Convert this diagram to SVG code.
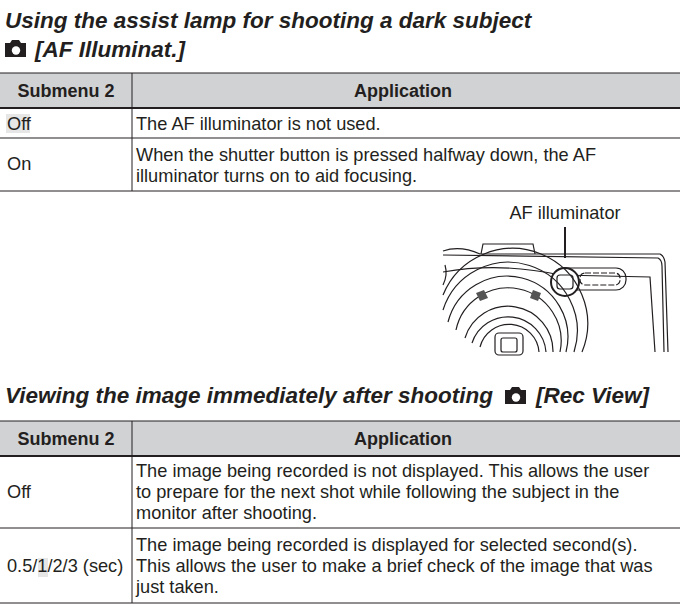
<svg xmlns="http://www.w3.org/2000/svg" width="680" height="610" viewBox="0 0 680 610">
<style>
.t{font-family:"Liberation Sans",Arial,sans-serif;font-size:18.2px;fill:#231f20}
.h{font-family:"Liberation Sans",Arial,sans-serif;font-size:18px;font-weight:bold;fill:#231f20}
.ti{font-family:"Liberation Sans",Arial,sans-serif;font-size:22.5px;font-weight:bold;font-style:italic;fill:#231f20}
.hd{fill:#d1d2d4}
.ln{stroke:#231f20;stroke-width:1;fill:none}
.lk{stroke:#231f20;stroke-width:2;fill:none}
.cam{stroke:#231f20;stroke-width:1.2;fill:none}
</style>
<defs>
<g id="icon"><path d="M0,4 h5 l2,-3 h7 l2,3 h5 v14 h-21z" fill="#231f20"/><circle cx="11" cy="11.5" r="4.2" fill="#fff"/></g>
</defs>
<g id="title1">
<text class="ti" x="5" y="28">Using the assist lamp for shooting a dark subject</text>
<use href="#icon" x="5" y="39"/>
<text class="ti" x="35" y="57">[AF Illuminat.]</text>
</g>
<g id="table1">
<rect class="hd" x="0" y="73" width="680" height="34"/>
<line class="ln" x1="0" y1="73" x2="680" y2="73"/>
<line class="lk" x1="0" y1="108" x2="680" y2="108"/>
<line class="ln" x1="0" y1="138" x2="680" y2="138"/>
<line class="ln" x1="0" y1="191" x2="680" y2="191"/>
<line class="ln" x1="132" y1="73" x2="132" y2="191"/>
<text class="h" x="66" y="97" text-anchor="middle">Submenu 2</text>
<text class="h" x="403" y="97" text-anchor="middle">Application</text>
<rect x="6" y="114" width="24" height="19" fill="#e6e6e6"/>
<text class="t" x="7" y="130">Off</text>
<text class="t" x="136" y="130">The AF illuminator is not used.</text>
<text class="t" x="7" y="170">On</text>
<text class="t" x="136" y="161">When the shutter button is pressed halfway down, the AF</text>
<text class="t" x="136" y="182">illuminator turns on to aid focusing.</text>
</g>
<g id="camera">
<text class="t" x="565" y="219" text-anchor="middle">AF illuminator</text>
<line class="lk" x1="565" y1="227" x2="565" y2="258"/>
<path class="cam" d="M443,251 Q460,245 480,254 L660,254 Q664,256 665,262 L668,352"/>
<path class="cam" d="M443,255 L658,258 Q662,260 662,266 L664,352"/>
<path class="cam" d="M481,254 L483,244 L533,244 L535,254"/>
<path class="cam" d="M443,272 Q500,262 560,275 L650,277 L655,352"/>
<rect class="cam" x="553" y="268" width="73" height="22" rx="10"/>
<rect class="cam" x="580" y="273" width="40" height="12" rx="5" stroke-dasharray="6 2"/>
<circle cx="565" cy="282" r="14" fill="#fff" stroke="#231f20" stroke-width="2"/>
<rect class="cam" x="557" y="275" width="16" height="14" rx="3"/>
<path class="cam" d="M443,285 Q448,275 445,265"/>
<path class="cam" d="M443,295 A70,70 0 0 1 582,352"/>
<path class="cam" d="M443,310 A64,64 0 0 1 574,352"/>
<path class="cam" d="M448,322 A58,58 0 0 1 566,352"/>
<path class="cam" d="M456,330 A52,52 0 0 1 560,352"/>
<path class="cam" d="M465,338 A45,45 0 0 1 553,352"/>
<path class="cam" d="M472,343 A38,38 0 0 1 546,352"/>
<path class="cam" d="M480,347 A30,30 0 0 1 539,352"/>
<rect class="cam" x="495" y="333" width="28" height="22" rx="4"/>
<rect class="cam" x="501" y="338" width="16" height="14" rx="2"/>
<path d="M476,293 l8,-3 l4,8 l-8,3z M533,290 l8,3 l-3,8 l-8,-3z" fill="#555"/>
</g>
<g id="title2">
<text class="ti" x="5" y="403">Viewing the image immediately after shooting</text>
<use href="#icon" x="505" y="386"/>
<text class="ti" x="536" y="403">[Rec View]</text>
</g>
<g id="table2">
<rect class="hd" x="0" y="421" width="680" height="34"/>
<line class="ln" x1="0" y1="421" x2="680" y2="421"/>
<line class="lk" x1="0" y1="456" x2="680" y2="456"/>
<line class="ln" x1="0" y1="528" x2="680" y2="528"/>
<line class="ln" x1="0" y1="603" x2="680" y2="603"/>
<line class="ln" x1="132" y1="421" x2="132" y2="603"/>
<text class="h" x="66" y="445" text-anchor="middle">Submenu 2</text>
<text class="h" x="403" y="445" text-anchor="middle">Application</text>
<text class="t" x="7" y="498">Off</text>
<text class="t" x="136" y="477">The image being recorded is not displayed. This allows the user</text>
<text class="t" x="136" y="498">to prepare for the next shot while following the subject in the</text>
<text class="t" x="136" y="519">monitor after shooting.</text>
<rect x="38" y="558" width="10" height="19" fill="#e6e6e6"/>
<text class="t" x="7" y="572">0.5/1/2/3 (sec)</text>
<text class="t" x="136" y="551">The image being recorded is displayed for selected second(s).</text>
<text class="t" x="136" y="572">This allows the user to make a brief check of the image that was</text>
<text class="t" x="136" y="593">just taken.</text>
</g>
</svg>
